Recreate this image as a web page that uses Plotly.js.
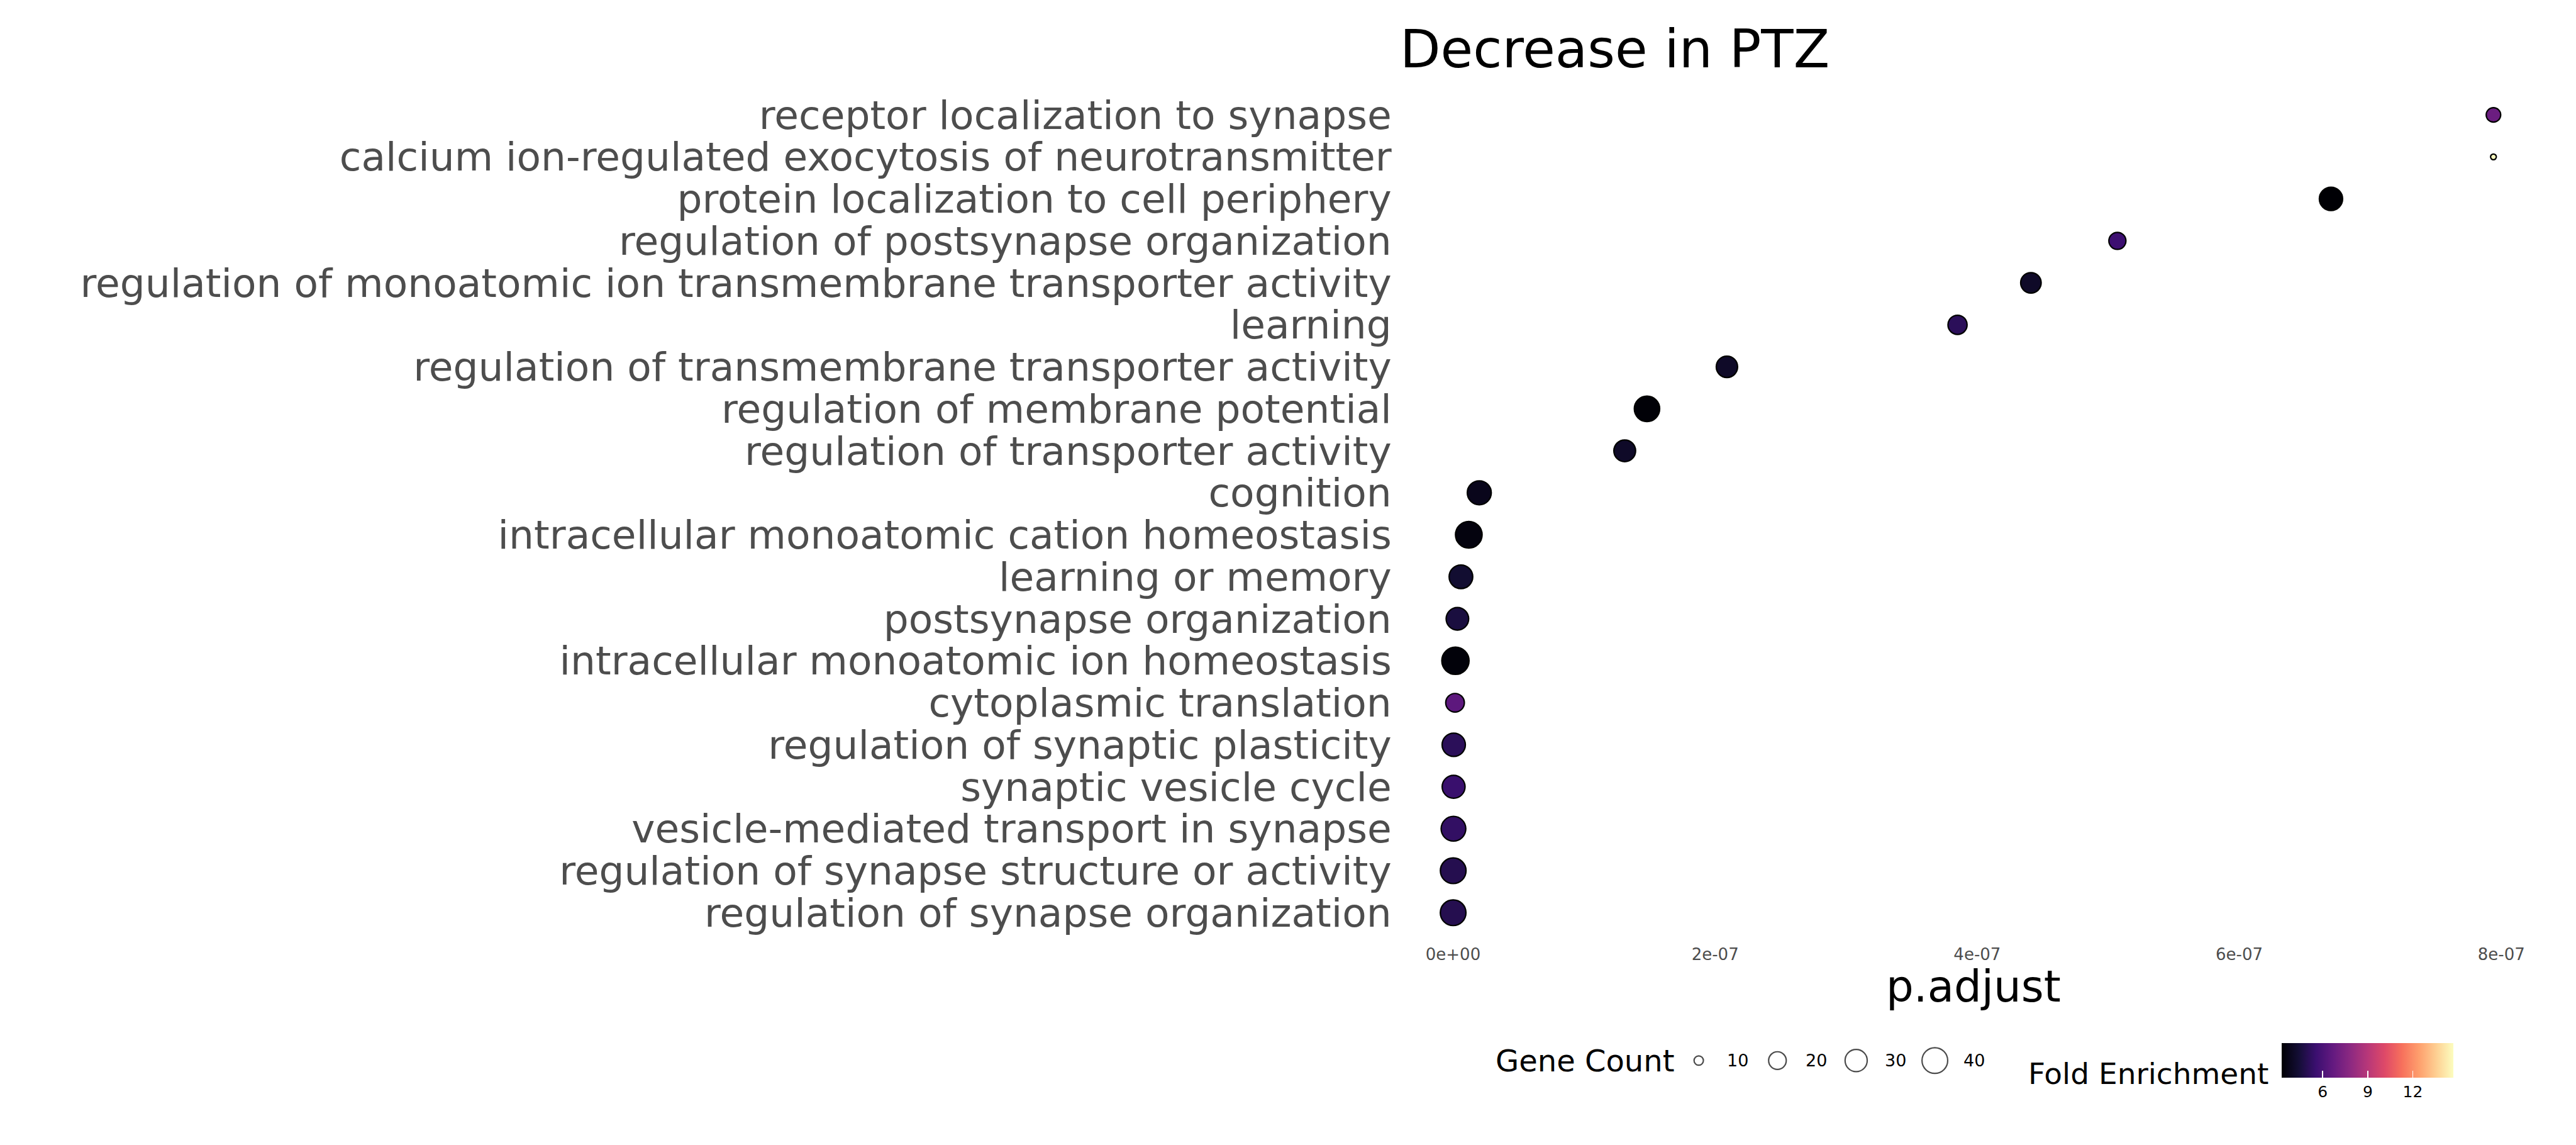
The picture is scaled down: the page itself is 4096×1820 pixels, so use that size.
<!DOCTYPE html>
<html><head><meta charset="utf-8">
<script src="https://cdn.plot.ly/plotly-3.0.1.min.js"></script>
<style>html,body{margin:0;padding:0;background:#fff;overflow:hidden}</style>
</head><body><div id="chart" style="width:4096px;height:1820px"></div>
<script>
// ---- data (top row first) ----
const terms = [
  "receptor localization to synapse",
  "calcium ion-regulated exocytosis of neurotransmitter",
  "protein localization to cell periphery",
  "regulation of postsynapse organization",
  "regulation of monoatomic ion transmembrane transporter activity",
  "learning",
  "regulation of transmembrane transporter activity",
  "regulation of membrane potential",
  "regulation of transporter activity",
  "cognition",
  "intracellular monoatomic cation homeostasis",
  "learning or memory",
  "postsynapse organization",
  "intracellular monoatomic ion homeostasis",
  "cytoplasmic translation",
  "regulation of synaptic plasticity",
  "synaptic vesicle cycle",
  "vesicle-mediated transport in synapse",
  "regulation of synapse structure or activity",
  "regulation of synapse organization"
];
const pAdjust = [7.94e-7, 7.94e-7, 6.70e-7, 5.07e-7, 4.41e-7, 3.85e-7, 2.09e-7, 1.48e-7, 1.31e-7,
  2.0e-8, 1.2e-8, 6e-9, 3.3e-9, 1.8e-9, 1.5e-9, 5e-10, 4e-10, 3e-10, 1e-10, 5e-11];
const geneCount = [15, 9, 33, 19, 26, 23, 28, 39, 29, 35, 43, 34, 31, 45, 22, 33, 32, 37, 40, 40];
const foldEnrichment = [6.9, 14.7, 3.27, 5.6, 4.1, 5.1, 4.1, 3.35, 4.1, 3.8, 3.5, 4.3, 4.6, 3.4, 6.5, 5.1, 5.5, 5.3, 4.9, 4.9];
const legendCounts = [10, 20, 30, 40];
const colorbarTicks = [6, 9, 12];
const xTickVals = [0, 2e-7, 4e-7, 6e-7, 8e-7];
const xTickText = ["0e+00", "2e-07", "4e-07", "6e-07", "8e-07"];

// magma palette
const magma = [[0, "#000004"], [0.1, "#140e36"], [0.2, "#3b0f70"], [0.3, "#641a80"], [0.4, "#8c2981"],
  [0.5, "#b73779"], [0.6, "#de4968"], [0.7, "#f7705c"], [0.8, "#fe9f6d"], [0.9, "#fecf92"], [1, "#fcfdbf"]];

const S = 4096 / 5400;           // reference -> window scale
const FONT = "DejaVu Sans";
const LW = 2.2;
function dotSize(c) {            // ggplot-like area scale, outer diameter minus stroke
  return S * (15 + 45 * Math.sqrt(Math.max(0, (c - 9) / 36))) - LW;
}
const W = 5400, H = 2400;        // reference pixel frame
const fx = px => px / W;
const fy = py => 1 - py / H;

const pMax = Math.max(...pAdjust);
const xRange = [-0.05 * pMax, 1.05 * pMax];

const main = {
  type: "scatter", mode: "markers",
  x: pAdjust, y: terms,
  xaxis: "x", yaxis: "y",
  hoverinfo: "skip", showlegend: false,
  marker: {
    size: geneCount.map(dotSize),
    color: foldEnrichment,
    colorscale: magma,
    cmin: Math.min(...foldEnrichment), cmax: Math.max(...foldEnrichment),
    line: {color: "#000000", width: LW},
    opacity: 1,
    colorbar: {
      orientation: "h",
      x: fx(4783), xanchor: "left",
      y: fy(2187), yanchor: "top",
      lenmode: "pixels", len: 360 * S,
      thicknessmode: "pixels", thickness: 72 * S,
      xpad: 0, ypad: 0,
      outlinewidth: 0,
      tickvals: colorbarTicks,
      ticktext: colorbarTicks.map(String),
      ticks: "inside", ticklen: 14 * S, tickcolor: "#ffffff", tickwidth: 1.5,
      tickfont: {family: FONT, size: 25, color: "#000000"},
      title: {text: ""}
    }
  }
};

const legendTrace = {
  type: "scatter", mode: "markers",
  x: legendCounts, y: legendCounts.map(() => 0.5),
  xaxis: "x2", yaxis: "y2",
  hoverinfo: "skip", showlegend: false,
  marker: {size: legendCounts.map(dotSize), color: "#ffffff", line: {color: "#000000", width: LW}}
};

// legend axis: 16.5 ref px per count, 10 at x=3561
const lx0 = 3100, lx1 = 4200, pxPerCount = 16.5, anchorPx = 3561;
const x2Range = [10 + (lx0 - anchorPx) / pxPerCount, 10 + (lx1 - anchorPx) / pxPerCount];

const annotations = [
  {text: "p.adjust", xref: "paper", yref: "paper", x: fx(4136.5), y: fy(2068), xanchor: "center", yanchor: "middle",
   showarrow: false, font: {family: FONT, size: 69, color: "#000000"}},
  {text: "Gene Count", xref: "paper", yref: "paper", x: fx(3133), y: fy(2223), xanchor: "left", yanchor: "middle",
   showarrow: false, font: {family: FONT, size: 48, color: "#000000"}},
  {text: "Fold Enrichment", xref: "paper", yref: "paper", x: fx(4758), y: fy(2250), xanchor: "right", yanchor: "middle",
   showarrow: false, font: {family: FONT, size: 47, color: "#000000"}}
].concat(legendCounts.map(c => ({
  text: String(c), xref: "x2", yref: "y2", x: c, y: 0.5, xshift: 82 * S, xanchor: "center", yanchor: "middle",
  showarrow: false, font: {family: FONT, size: 27, color: "#000000"}
})));

const layout = {
  width: 4096, height: 1820,
  margin: {l: 0, r: 0, t: 0, b: 0},
  paper_bgcolor: "#ffffff", plot_bgcolor: "#ffffff",
  font: {family: FONT},
  title: {text: "Decrease in PTZ", x: fx(3385), xanchor: "center", y: fy(102), yanchor: "middle",
          xref: "paper", yref: "paper", font: {family: FONT, size: 84, color: "#000000"}},
  xaxis: {
    domain: [fx(2937), fx(5336)], range: xRange, anchor: "y",
    showgrid: false, zeroline: false, showline: false, ticks: "",
    tickmode: "array", tickvals: xTickVals, ticktext: xTickText,
    tickfont: {family: FONT, size: 26, color: "#4d4d4d"},
    ticklabelstandoff: 8, automargin: false
  },
  yaxis: {
    domain: [fy(1966), fy(188)], type: "category", categoryarray: terms, categoryorder: "array",
    tickmode: "array", tickvals: terms, ticktext: terms,
    range: [terms.length - 0.4, -0.6], anchor: "x",
    showgrid: false, zeroline: false, showline: false, ticks: "",
    tickfont: {family: FONT, size: 63, color: "#4d4d4d"},
    ticklabelstandoff: 14, automargin: false
  },
  xaxis2: {domain: [fx(lx0), fx(lx1)], range: x2Range, anchor: "y2", visible: false, fixedrange: true},
  yaxis2: {domain: [fy(2263), fy(2183)], range: [0, 1], anchor: "x2", visible: false, fixedrange: true},
  annotations: annotations,
  showlegend: false
};

Plotly.newPlot("chart", [main, legendTrace], layout, {staticPlot: true, displayModeBar: false});
</script>
</body></html>
